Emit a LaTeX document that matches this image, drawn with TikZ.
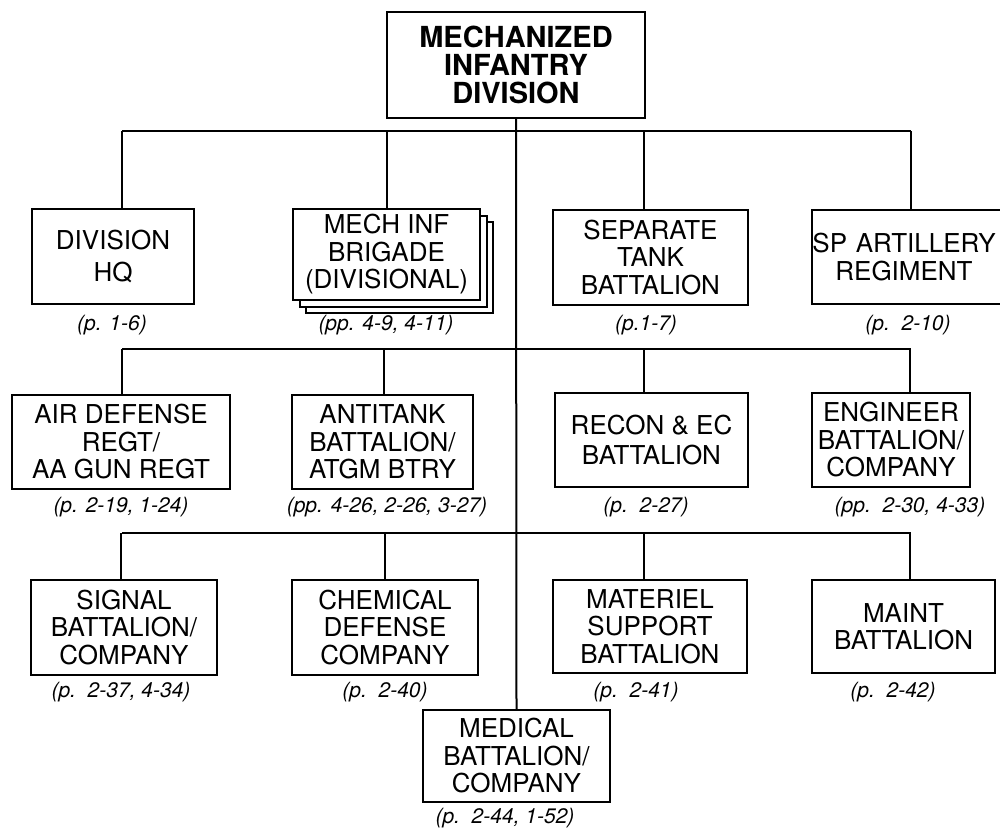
\documentclass[tikz,border=0pt]{standalone}
\usepackage{fontspec}
\setmainfont{TeX Gyre Heros}
\begin{document}
\begin{tikzpicture}[x=1pt,y=-1pt,
  unit/.style={draw, line width=2pt, fill=white, align=center, inner sep=0pt,
    font=\fontsize{26}{27.5}\selectfont},
  titlebox/.style={draw, line width=2pt, fill=white, align=center, inner sep=0pt,
    font=\fontsize{29}{28}\selectfont\bfseries},
  lbl/.style={inner sep=0pt, font=\fontsize{21}{24}\selectfont\itshape},
  link/.style={line width=2pt}]
\useasboundingbox (0,0) rectangle (1000,830);
\fill[white] (0,0) rectangle (1000,830);

% title
\node[titlebox, minimum width=258, minimum height=106] (div) at (516,65)
  {MECHANIZED\\INFANTRY\\DIVISION};

% row 1
\node[unit, minimum width=162, minimum height=95] (hq) at (113,256.5) {DIVISION\\[5pt]HQ};
\node[unit, minimum width=187, minimum height=91] (mibc) at (399.5,267.5) {};
\node[unit, minimum width=187, minimum height=91] (mibb) at (393,261) {};
\node[unit, minimum width=187, minimum height=91] (mib) at (386.5,254.5) {MECH INF\\BRIGADE\\(DIVISIONAL)};
\node[unit, minimum width=195, minimum height=95] (tank) at (650.5,257.5) {SEPARATE\\TANK\\BATTALION};
\node[unit, minimum width=200, minimum height=94, text width=190] (art) at (912,257) {\hspace*{-16pt}SP ARTILLERY\\\hspace*{-16pt}REGIMENT};

% row 2
\node[unit, minimum width=218, minimum height=94] (ad) at (121,442) {AIR DEFENSE\\REGT/\\AA GUN REGT};
\node[unit, minimum width=181, minimum height=94] (atk) at (382.5,442) {ANTITANK\\BATTALION/\\ATGM BTRY};
\node[unit, minimum width=193, minimum height=94] (rec) at (651.5,440) {RECON \& EC\\[2pt]BATTALION};
\node[unit, minimum width=158, minimum height=94] (eng) at (891,440) {ENGINEER\\BATTALION/\\COMPANY};

% row 3
\node[unit, minimum width=186, minimum height=95] (sig) at (124,627.5) {SIGNAL\\BATTALION/\\COMPANY};
\node[unit, minimum width=186, minimum height=95] (chem) at (385,627.5) {CHEMICAL\\DEFENSE\\COMPANY};
\node[unit, minimum width=194, minimum height=93] (mat) at (650,626.5) {MATERIEL\\SUPPORT\\BATTALION};
\node[unit, minimum width=183, minimum height=93] (maint) at (903.5,626.5) {MAINT\\BATTALION};

% medical
\node[unit, minimum width=187, minimum height=92] (med) at (516.5,756) {MEDICAL\\BATTALION/\\COMPANY};

% labels
\node[lbl] (lhq) at (112,325) {(p. 1-6)};
\node[lbl] (lmib) at (386,325) {(pp. 4-9, 4-11)};
\node[lbl] (ltank) at (646,325) {(p.1-7)};
\node[lbl] (lart) at (908,325) {(p.~~2-10)};
\node[lbl] (lad) at (121,507) {(p. 2-19, 1-24)};
\node[lbl] (latk) at (387,507) {(pp. 4-26, 2-26, 3-27)};
\node[lbl] (lrec) at (646,507) {(p.~~2-27)};
\node[lbl] (leng) at (910,507) {(pp.~~2-30, 4-33)};
\node[lbl] (lsig) at (121,692) {(p.~~2-37, 4-34)};
\node[lbl] (lchem) at (385,692) {(p.~~2-40)};
\node[lbl] (lmat) at (636,692) {(p.~~2-41)};
\node[lbl] (lmaint) at (893,692) {(p.~~2-42)};
\node[lbl] (lmed) at (505,818) {(p.~~2-44, 1-52)};

% connectors
\coordinate (b1l) at (122,131); \coordinate (b1r) at (911,131);
\coordinate (b2l) at (122,349); \coordinate (b2r) at (911,349);
\coordinate (b3l) at (122,533); \coordinate (b3r) at (911,533);
\coordinate (t1) at (387,131); \coordinate (t2) at (644,131);
\coordinate (u1) at (384,349); \coordinate (u2) at (644,349); \coordinate (u3) at (910,349);
\coordinate (v1) at (121,533); \coordinate (v2) at (385,533); \coordinate (v3) at (644,533); \coordinate (v4) at (910,533);

\draw[link] (div.south) -- (med.north);
\draw[link] (b1l) -- (b1r);
\draw[link] (b2l) -- (b2r);
\draw[link] (b3l) -- (b3r);
\draw[link] (b1l) -- (b1l |- hq.north);
\draw[link] (t1) -- (t1 |- mib.north);
\draw[link] (t2) -- (t2 |- tank.north);
\draw[link] (b1r) -- (b1r |- art.north);
\draw[link] (b2l) -- (b2l |- ad.north);
\draw[link] (u1) -- (u1 |- atk.north);
\draw[link] (u2) -- (u2 |- rec.north);
\draw[link] (u3) -- (u3 |- eng.north);
\draw[link] (v1) -- (v1 |- sig.north);
\draw[link] (v2) -- (v2 |- chem.north);
\draw[link] (v3) -- (v3 |- mat.north);
\draw[link] (v4) -- (v4 |- maint.north);
\end{tikzpicture}
\end{document}
